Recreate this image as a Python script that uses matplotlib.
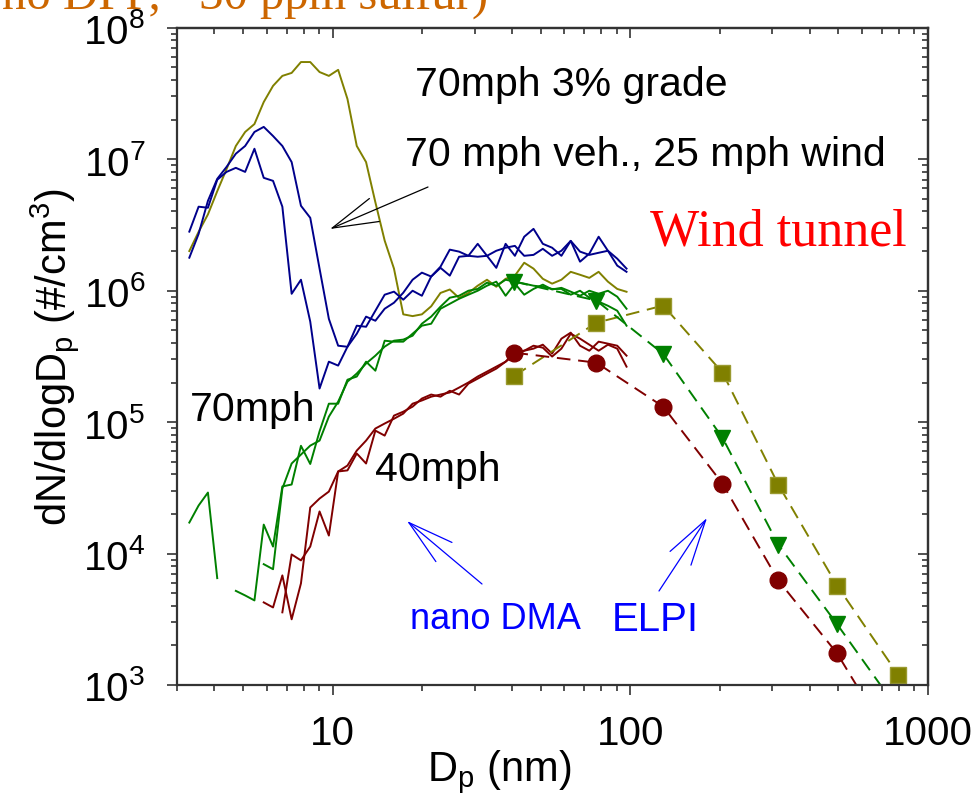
import numpy as np
import matplotlib
matplotlib.use('Agg')
import matplotlib.pyplot as plt
from matplotlib.ticker import FuncFormatter, NullFormatter, LogLocator

plt.rcParams['font.family'] = ['Liberation Sans', 'DejaVu Sans']
plt.rcParams['mathtext.fontset'] = 'custom'
plt.rcParams['mathtext.rm'] = 'Liberation Sans'
plt.rcParams['mathtext.it'] = 'Liberation Sans:italic'
plt.rcParams['mathtext.default'] = 'regular'

nan = np.nan

# nano DMA size bins (nm)
dma_dp = [3.300, 3.546, 3.811, 4.095, 4.401, 4.729, 5.082, 5.461, 5.868, 6.306,
          6.777, 7.282, 7.826, 8.409, 9.037, 9.711, 10.435, 11.214, 12.051, 12.950,
          13.916, 14.955, 16.070, 17.269, 18.558, 19.942, 21.430, 23.029, 24.747, 26.593,
          28.577, 30.710, 33.00, 35.46, 38.11, 40.95, 44.01, 47.29, 50.82, 54.61,
          58.68, 63.06, 67.77, 72.82, 78.26, 84.09, 90.37, 97.11]

# 70 mph, 3% grade (olive)
dma_grade = [2.0e6, 2.8e6, 3.8e6, 5.7e6, 8.4e6, 1.26e7, 1.61e7, 1.85e7, 2.72e7, 3.61e7,
             4.30e7, 4.53e7, 5.48e7, 5.48e7, 4.60e7, 4.30e7, 4.78e7, 2.87e7, 1.26e7, 9.5e6,
             4.7e6, 2.4e6, 1.47e6, 6.6e5, 6.4e5, 6.6e5, 7.6e5, 9.6e5, 1.02e6, 8.8e5,
             9.6e5, 1.09e6, 1.21e6, 1.07e6, 1.23e6, 1.30e6, 1.63e6, 1.47e6, 1.23e6, 1.13e6,
             1.21e6, 1.39e6, 1.32e6, 1.25e6, 1.39e6, 1.17e6, 1.03e6, 9.8e5]

# 70 mph vehicle, 25 mph wind (navy, two scans)
dma_wind_a = [1.78e6, 2.70e6, 4.82e6, 7.08e6, 8.73e6, 1.10e7, 1.26e7, 1.61e7, 1.76e7, 1.50e7,
              1.26e7, 9.5e6, 4.42e6, 3.58e6, 1.47e6, 6.1e5, 3.81e5, 3.74e5, 5.41e5, 5.31e5,
              7.03e5, 9.31e5, 9.82e5, 8.53e5, 9.98e5, 9.14e5, 1.28e6, 1.49e6, 1.30e6, 1.81e6,
              1.84e6, 2.27e6, 1.84e6, 1.49e6, 2.27e6, 1.84e6, 2.57e6, 2.95e6, 2.27e6, 2.12e6,
              1.84e6, 2.39e6, 1.66e6, 1.91e6, 2.57e6, 2.01e6, 1.55e6, 1.39e6]
dma_wind_b = [2.81e6, 4.35e6, 4.27e6, 6.97e6, 8.0e6, 8.59e6, 8.0e6, 1.20e7, 7.21e6, 6.84e6,
              4.35e6, 9.46e5, 1.21e6, 5.81e5, 1.80e5, 2.88e5, 2.69e5, 3.74e5, 4.70e5, 6.34e5,
              5.90e5, 7.28e5, 8.09e5, 9.64e5, 1.21e6, 1.37e6, 1.28e6, 1.52e6, 2.05e6, 1.98e6,
              1.84e6, 1.81e6, 1.84e6, 2.01e6, 2.12e6, 2.19e6, 1.84e6, 1.87e6, 2.08e6, 1.84e6,
              2.01e6, 2.39e6, 1.98e6, 1.87e6, 1.94e6, 2.01e6, 1.75e6, 1.47e6]

# 70 mph (green, two scans)
dma_70_a = [1.72e4, 2.32e4, 2.91e4, 6.5e3, nan, 5.2e3, 4.8e3, 4.4e3, 1.66e4, 1.13e4,
            3.24e4, 3.35e4, 6.6e4, 4.8e4, 8.5e4, 1.38e5, 1.38e5, 2.10e5, 2.22e5, 2.88e5,
            2.46e5, 4.16e5, 4.09e5, 4.09e5, 4.70e5, 5.41e5, 5.60e5, 7.28e5, 7.94e5, 8.67e5,
            9.31e5, 9.98e5, 1.09e6, 1.17e6, 9.14e5, 1.13e6, 9.31e5, 1.03e6, 1.11e6, 1.02e6,
            1.05e6, 9.82e5, 9.14e5, 9.98e5, 9.46e5, 9.98e5, 8.99e5, 7.28e5]
dma_70_b = [nan, nan, nan, nan, nan, nan, nan, nan, 8.3e3, 7.6e3,
            3.12e4, 4.84e4, 5.66e4, 6.62e4, 7.23e4, 1.10e5, 1.43e5, 2.03e5, 2.34e5, 2.79e5,
            3.20e5, 3.75e5, 4.16e5, 4.24e5, 4.54e5, 5.60e5, 6.34e5, 7.55e5, 8.83e5, 9.14e5,
            9.98e5, 1.03e6, 1.15e6, 1.09e6, 1.21e6, 1.17e6, 1.13e6, 1.09e6, 1.07e6, 1.03e6,
            1.03e6, 9.31e5, 9.98e5, 8.83e5, 8.24e5, 7.67e5, 7.03e5, 5.41e5]

# 40 mph (dark red, two scans)
dma_40_a = [nan, nan, nan, nan, nan, nan, nan, nan, 4.25e3, 3.89e3,
            6.82e3, 3.16e3, 5.93e3, 2.24e4, 2.62e4, 2.96e4, 4.21e4, 4.29e4, 5.77e4, 4.84e4,
            8.61e4, 7.89e4, 1.12e5, 1.20e5, 1.31e5, 1.51e5, 1.62e5, 1.56e5, 1.73e5, 1.62e5,
            1.96e5, 2.14e5, 2.34e5, 2.55e5, 2.88e5, 3.43e5, 3.49e5, 3.62e5, 3.88e5, 3.32e5,
            4.31e5, 4.79e5, 3.81e5, 3.49e5, 4.09e5, 3.95e5, 3.81e5, 3.20e5]
dma_40_b = [nan, nan, nan, nan, nan, nan, nan, nan, nan, nan,
            3.57e3, 9.84e3, 8.87e3, 1.13e4, 2.09e4, 1.37e4, 4.21e4, 4.67e4, 6.07e4, 7.23e4,
            8.93e4, 9.75e4, 1.06e5, 1.16e5, 1.38e5, 1.46e5, 1.56e5, 1.62e5, 1.68e5, 1.83e5,
            2.00e5, 2.22e5, 2.42e5, 2.64e5, 2.88e5, 3.26e5, 3.49e5, 3.81e5, 3.68e5, 3.15e5,
            3.62e5, 4.70e5, 4.31e5, 3.88e5, 3.49e5, 3.88e5, 3.62e5, 2.64e5]

# ELPI stages (nm)
elpi_dp = [40.8, 76.9, 129, 204, 314, 495, 793, 1260]
elpi_grade = [2.25e5, 5.7e5, 7.7e5, 2.38e5, 3.35e4, 5.7e3, 1.2e3, 2.0e2]
elpi_70 = [1.17e6, 8.4e5, 3.3e5, 7.6e4, 1.17e4, 2.9e3, 6.5e2, 1.4e2]
elpi_40 = [3.37e5, 2.83e5, 1.31e5, 3.4e4, 6.25e3, 1.74e3, 3.0e2, 5.0e1]

OLIVE = '#808000'
NAVY = '#00008b'
GREEN = '#008000'
DRED = '#800000'

fig = plt.figure(figsize=(9.76, 8.03), dpi=100)
W, H = 976.0, 803.0
ax = fig.add_axes([177 / W, 1 - 686 / H, (928 - 177) / W, (686 - 28.7) / H])
ax.set_xscale('log')
ax.set_yscale('log')
ax.set_xlim(3.0, 1000)
ax.set_ylim(1e3, 1e8)

lw = 1.4
ax.plot(dma_dp, dma_grade, color=OLIVE, lw=lw)
ax.plot(dma_dp, dma_wind_a, color=NAVY, lw=lw)
ax.plot(dma_dp, dma_wind_b, color=NAVY, lw=lw)
ax.plot(dma_dp, dma_70_a, color=GREEN, lw=lw)
ax.plot(dma_dp, dma_70_b, color=GREEN, lw=lw)
ax.plot(dma_dp, dma_40_a, color=DRED, lw=lw)
ax.plot(dma_dp, dma_40_b, color=DRED, lw=lw)

dash = (0, (7, 4))
ax.plot(elpi_dp, elpi_grade, color=OLIVE, lw=1.4, ls=dash, marker='s', ms=11,
        mfc=OLIVE, mec='#9a9a30', mew=1)
ax.plot(elpi_dp, elpi_70, color=GREEN, lw=1.4, ls=dash, marker='v', ms=12,
        mfc=GREEN, mec=GREEN)
ax.plot(elpi_dp, elpi_40, color=DRED, lw=1.4, ls=dash, marker='o', ms=12,
        mfc=DRED, mec=DRED)

# axes styling
spine_c = '#333333'
for s in ax.spines.values():
    s.set_linewidth(1.6)
    s.set_color(spine_c)
ax.tick_params(which='both', direction='out', color=spine_c, width=1.2,
               top=False, right=False, labelsize=29)
ax.tick_params(which='major', length=7)
ax.tick_params(which='minor', length=4.5)
ax.xaxis.set_major_locator(LogLocator(base=10, numticks=10))
ax.xaxis.set_minor_locator(LogLocator(base=10, subs=np.arange(2, 10), numticks=20))
ax.yaxis.set_minor_locator(LogLocator(base=10, subs=np.arange(2, 10), numticks=20))
ax.xaxis.set_major_formatter(FuncFormatter(lambda v, p: '%d' % round(v)))
ax.xaxis.set_minor_formatter(NullFormatter())
ax.yaxis.set_minor_formatter(NullFormatter())
ax.tick_params(axis='x', pad=14)
ax.tick_params(axis='y', pad=16)

secx = ax.secondary_xaxis('top')
secx.tick_params(which='both', direction='in', color=spine_c, width=1.2, labeltop=False)
secx.tick_params(which='major', length=7)
secx.tick_params(which='minor', length=4.5)
secx.xaxis.set_major_formatter(NullFormatter())
secx.xaxis.set_minor_formatter(NullFormatter())
secx.spines['top'].set_linewidth(1.6)
secx.spines['top'].set_color(spine_c)
secy = ax.secondary_yaxis('right')
secy.tick_params(which='both', direction='in', color=spine_c, width=1.2, labelright=False)
secy.tick_params(which='major', length=7)
secy.tick_params(which='minor', length=4.5)
secy.yaxis.set_major_formatter(NullFormatter())
secy.yaxis.set_minor_formatter(NullFormatter())
secy.spines['right'].set_linewidth(1.6)
secy.spines['right'].set_color(spine_c)

ax.set_xlabel('D$_p$ (nm)', fontsize=30)
ax.xaxis.set_label_coords((499 - 177) / 751.0, -0.095)
ax.set_ylabel('dN/dlogD$_p$ (#/cm$^3$)', fontsize=30)
ax.yaxis.set_label_coords(-0.128, 0.5)

# annotations (figure pixel coords)
def fx(x):
    return x / W
def fy(y):
    return 1 - y / H

fig.text(fx(415), fy(85), '70mph 3% grade', fontsize=29.5, va='center', ha='left')
fig.text(fx(405), fy(155), '70 mph veh., 25 mph wind', fontsize=29.5, va='center', ha='left')
fig.text(fx(650), fy(232), 'Wind tunnel', fontsize=37.5, va='center', ha='left',
         color='#ff0000', family=['Liberation Serif', 'DejaVu Serif'])
fig.text(fx(190), fy(410), '70mph', fontsize=29.5, va='center', ha='left')
fig.text(fx(375), fy(470), '40mph', fontsize=29.5, va='center', ha='left')
fig.text(fx(410), fy(620), 'nano DMA', fontsize=26, va='center', ha='left', color='#0000ff')
fig.text(fx(612), fy(620), 'ELPI', fontsize=29, va='center', ha='left', color='#0000ff')
fig.text(fx(2), fy(9), 'no DPF, ~30 ppm sulfur)', fontsize=35, va='baseline', ha='left',
         color='#cc6600', family=['Liberation Serif', 'DejaVu Serif'])

def arrow(tail, tip, color):
    ann = ax.annotate('', xy=(fx(tip[0]), fy(tip[1])), xycoords='figure fraction',
                      xytext=(fx(tail[0]), fy(tail[1])), textcoords='figure fraction',
                      arrowprops=dict(arrowstyle='->,head_length=3.3,head_width=0.9',
                                      color=color, lw=0.9, shrinkA=0, shrinkB=0,
                                      mutation_scale=10))
    ann.set_annotation_clip(False)

arrow((428, 188), (330, 230), 'black')
arrow((482, 585), (407, 522), '#0000ff')
arrow((659, 592), (707, 519), '#0000ff')

fig.savefig('out.png', dpi=100)
